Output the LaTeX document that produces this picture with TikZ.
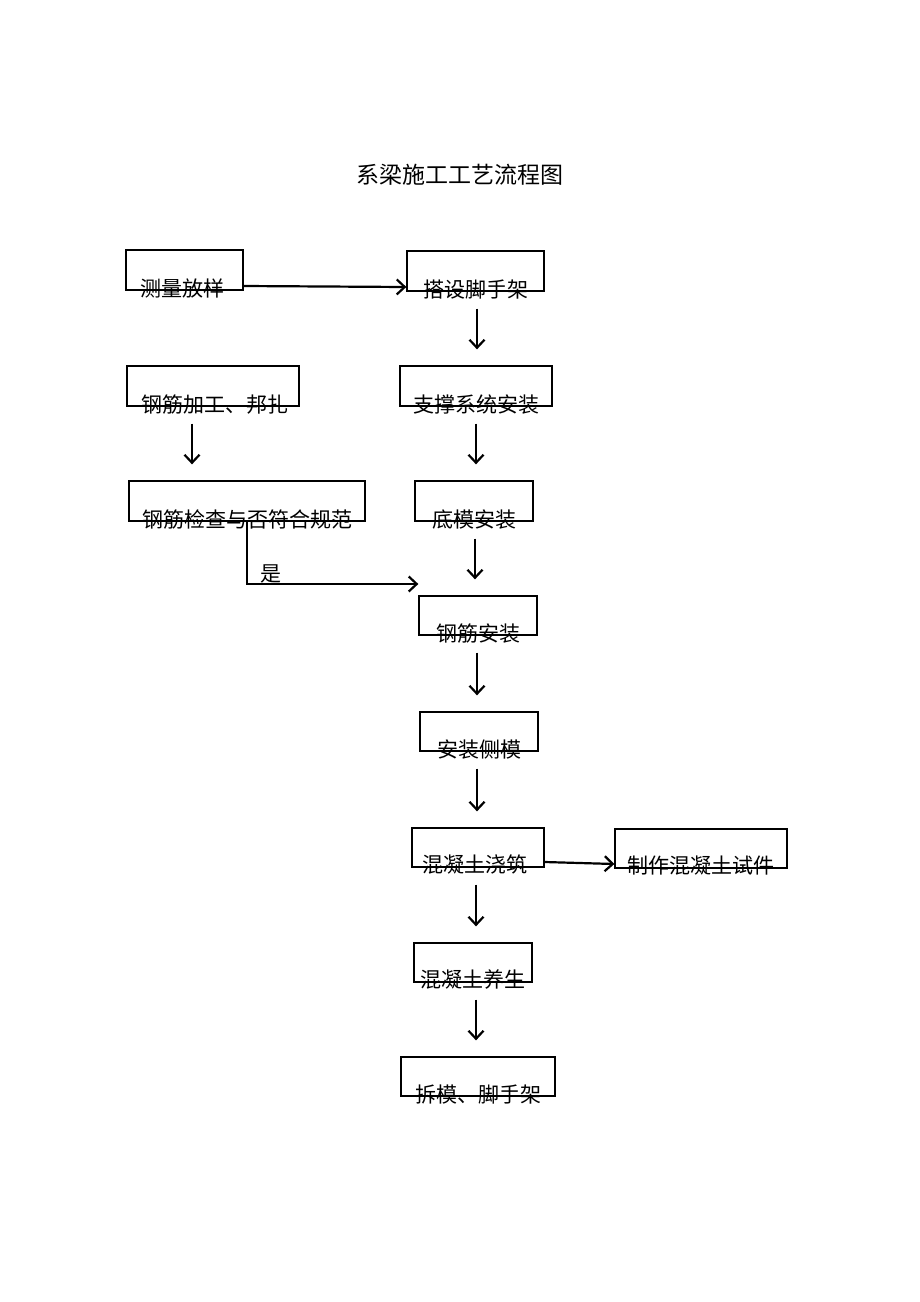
\documentclass[tikz,border=0pt]{standalone}
\usepackage{fontspec}
\newfontfamily\cjk{Noto Sans CJK SC}
\usetikzlibrary{arrows.meta,calc}
\tikzstyle{stepbox}=[draw, line width=1.3pt, inner sep=0pt, minimum height=40pt]
\tikzstyle{txt}=[inner sep=0pt, anchor=center, font=\cjk\fontsize{21}{24}\selectfont, text height=0.82em, text depth=0.12em]
\tikzstyle{flow}=[line width=2.2pt, -{Straight Barb[length=8pt,width=15pt,line width=2.2pt]}, shorten <=17pt, shorten >=16pt]
\tikzstyle{side}=[line width=2.2pt, -{Straight Barb[length=8pt,width=15pt,line width=2.2pt]}]

\begin{document}
\begin{tikzpicture}[x=1pt,y=-1pt]
	\useasboundingbox[fill=white] (0,0) rectangle (920,1302);
	\node[txt, font=\cjk\fontsize{23}{26}\selectfont] (title) at (460,180) {系梁施工工艺流程图};
	% boxes
	\node[stepbox, minimum width=117pt] (clfy) at (184.5,270) {};
	\node[stepbox, minimum width=137pt] (dsjsj) at (475.5,271) {};
	\node[stepbox, minimum width=172pt] (gjjg) at (213,386) {};
	\node[stepbox, minimum width=152pt] (zcxt) at (476,386) {};
	\node[stepbox, minimum width=236pt] (gjjc) at (247,501) {};
	\node[stepbox, minimum width=118pt] (dmaz) at (474,501) {};
	\node[stepbox, minimum width=118pt, minimum height=39pt] (gjaz) at (478,615.5) {};
	\node[stepbox, minimum width=118pt, minimum height=39pt] (azcm) at (479,731.5) {};
	\node[stepbox, minimum width=132pt, minimum height=39pt] (hntjz) at (478,847.5) {};
	\node[stepbox, minimum width=172pt, minimum height=39pt] (zzsj) at (701,848.5) {};
	\node[stepbox, minimum width=118pt, minimum height=39pt] (hntys) at (473,962.5) {};
	\node[stepbox, minimum width=154pt, minimum height=39pt] (cmjsj) at (478,1076.5) {};
	% texts
	\node[txt] (clfyt) at ([xshift=-2pt,yshift=-2pt]clfy.south) {测量放样};
	\node[txt] (dsjsjt) at ([yshift=-2pt]dsjsj.south) {搭设脚手架};
	\node[txt] (gjjgt) at ([xshift=2pt,yshift=-2pt]gjjg.south) {钢筋加工、邦扎};
	\node[txt] (zcxtt) at ([yshift=-2pt]zcxt.south) {支撑系统安装};
	\node[txt] (gjjct) at ([yshift=-2pt]gjjc.south) {钢筋检查与否符合规范};
	\node[txt] (dmazt) at ([yshift=-2pt]dmaz.south) {底模安装};
	\node[txt] (gjazt) at ([yshift=-2pt]gjaz.south) {钢筋安装};
	\node[txt] (azcmt) at ([yshift=-2pt]azcm.south) {安装侧模};
	\node[txt] (hntjzt) at ([xshift=-3pt,yshift=-1pt]hntjz.south) {混凝土浇筑};
	\node[txt] (zzsjt) at ([yshift=-1pt]zzsj.south) {制作混凝土试件};
	\node[txt] (hntyst) at ([yshift=-1pt]hntys.south) {混凝土养生};
	\node[txt] (cmjsjt) at ([yshift=-2pt]cmjsj.south) {拆模、脚手架};
	% arrows
	\draw[side] ([yshift=-16pt]clfy.east) -- ([yshift=-16pt]dsjsj.west);
	\draw[flow] ([xshift=1.5pt]dsjsj.south) -- ([xshift=1.5pt]dsjsj.south |- zcxt.north);
	\draw[flow] ([xshift=-21pt]gjjg.south) -- ([xshift=-21pt]gjjg.south |- gjjc.north);
	\draw[flow] (zcxt.south) -- (zcxt.south |- dmaz.north);
	\draw[side] (gjjc.south) |- node[pos=0.5, txt, anchor=south west, xshift=12pt, yshift=0pt] (shi) {是} ([yshift=31.5pt]gjaz.west);
	\draw[flow] ([xshift=1pt]dmaz.south) -- ([xshift=1pt]dmaz.south |- gjaz.north);
	\draw[flow] ([xshift=-1pt]gjaz.south) -- ([xshift=-1pt]gjaz.south |- azcm.north);
	\draw[flow] ([xshift=-2pt]azcm.south) -- ([xshift=-2pt]azcm.south |- hntjz.north);
	\draw[side] ([yshift=-14.5pt]hntjz.east) -- ([yshift=-15.5pt]zzsj.west);
	\draw[flow] ([xshift=-2pt]hntjz.south) -- ([xshift=-2pt]hntjz.south |- hntys.north);
	\draw[flow] ([xshift=3pt]hntys.south) -- ([xshift=3pt]hntys.south |- cmjsj.north);
\end{tikzpicture}
\end{document}
